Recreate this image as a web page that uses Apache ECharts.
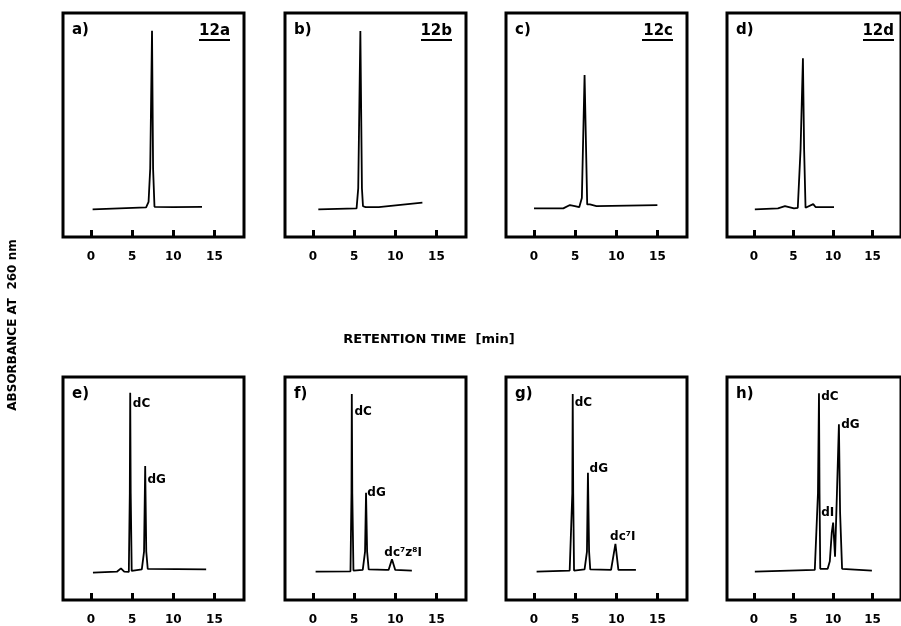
<!DOCTYPE html>
<html>
<head>
<meta charset="utf-8">
<script src="https://cdn.jsdelivr.net/npm/echarts@6/dist/echarts.min.js"></script>
<style>
  html, body { margin: 0; padding: 0; background: #fff; }
  #chart { width: 901px; height: 626px; }
</style>
</head>
<body>
<div id="chart"></div>
<script>
// retention time (min) vs absorbance (relative units, baseline = 0)
const tickValues = [0, 5, 10, 15]
const panelNames = ['a)', 'b)', 'c)', 'd)', 'e)', 'f)', 'g)', 'h)']
const sampleCodes = ['12a', '12b', '12c', '12d']

const traceA = [[0.2, -0.8], [6.7, 0.2], [7.0, 3], [7.2, 20], [7.42, 90.9], [7.55, 20], [7.72, 0.5], [10, 0.3], [13.5, 0.5]]
const traceB = [[0.65, -0.8], [5.3, -0.3], [5.5, 10], [5.76, 90.8], [5.95, 10], [6.08, 0.8], [6.4, 0.3], [8.0, 0.3], [10.05, 1.2], [13.3, 2.6]]
const traceC = [[0, -0.3], [3.56, -0.3], [4.37, 1.4], [4.97, 0.9], [5.5, 0.3], [5.82, 5], [6.15, 68.2], [6.47, 1.7], [6.8, 1.7], [7.6, 0.9], [15.0, 1.4]]
const traceD = [[0.12, -0.8], [3.04, -0.3], [3.93, 0.8], [5.07, -0.3], [5.55, 0], [5.9, 30], [6.2, 76.7], [6.35, 30], [6.53, 0], [7.5, 1.9], [7.82, 0.3], [10.13, 0.3]]
const traceE = [[0.24, -0.9], [3.15, -0.4], [3.64, 1.3], [4.04, -0.4], [4.6, -0.5], [4.72, 40], [4.77, 91.9], [4.83, 40], [4.95, 0], [5.17, 0.5], [6.18, 0.8], [6.3, 1], [6.45, 10], [6.59, 54.1], [6.72, 10], [6.9, 1], [14.0, 0.8]]
const traceF = [[0.32, -0.4], [4.56, -0.2], [4.68, 40], [4.72, 91.2], [4.78, 40], [4.92, 0.2], [6.05, 0.5], [6.21, 0.8], [6.33, 10], [6.45, 40.3], [6.58, 10], [6.77, 0.8], [8.87, 0.5], [9.19, 0.5], [9.6, 6.0], [10.0, 0.5], [12.02, 0.2]]
const traceG = [[0.32, -0.4], [4.34, 0.2], [4.55, 0.2], [4.66, 40], [4.71, 91.2], [4.77, 40], [4.87, 0.2], [6.15, 0.8], [6.31, 0.8], [6.44, 10], [6.56, 50.6], [6.7, 10], [6.84, 0.8], [9.37, 0.5], [9.57, 0.5], [9.9, 13.9], [10.26, 0.5], [12.39, 0.5]]
const traceH = [[0.12, -0.4], [7.7, 0.5], [7.9, 0.8], [8.1, 40], [8.23, 91.6], [8.3, 40], [8.39, 1.1], [9.33, 1.1], [9.6, 5], [9.85, 20], [10.02, 24.9], [10.26, 7.3], [10.5, 40], [10.75, 75.6], [10.9, 30], [11.15, 1.1], [14.92, 0.2]]

// peak names, placed where they are printed: [text, time, absorbance]
const labelsE = [['dC', 5.09, 86.1], ['dG', 6.87, 46.9]]
const labelsF = [['dC', 5.04, 81.8], ['dG', 6.61, 40], ['dc⁷z⁸I', 8.67, 9.4]]
const labelsG = [['dC', 4.95, 86.7], ['dG', 6.76, 52.4], ['dc⁷I', 9.25, 17.3]]
const labelsH = [['dC', 8.52, 89.8], ['dG', 11.03, 75.2], ['dI', 8.52, 30]]

const traces = [traceA, traceB, traceC, traceD, traceE, traceF, traceG, traceH]
const peakLabels = [[], [], [], [], labelsE, labelsF, labelsG, labelsH]

const gridLefts = [63, 285, 506, 727]
const rowTops = [13, 377]
const rowHeights = [224, 223]
const gridWidth = 181
const font = 'DejaVu Sans'

const chart = echarts.init(document.getElementById('chart'))

const grid = [], xAxis = [], yAxis = [], series = [], graphic = []

traces.forEach((trace, i) => {
  const row = Math.floor(i / 4)
  const col = i % 4
  const left = gridLefts[col]
  const top = rowTops[row]
  grid.push({
    left, top, width: gridWidth, height: rowHeights[row],
    show: true, borderColor: '#000', borderWidth: 3, backgroundColor: 'transparent',
  })
  xAxis.push({
    type: 'value', gridIndex: i, min: -3.4, max: 18.6, position: 'bottom',
    splitLine: { show: false },
    axisLine: { show: false, onZero: false },
    axisTick: { show: true, inside: true, length: 7, customValues: tickValues, lineStyle: { color: '#000', width: 3 } },
    axisLabel: { customValues: tickValues, margin: 14, color: '#000', fontSize: 12, fontWeight: 'bold', fontFamily: font },
  })
  yAxis.push({ type: 'value', gridIndex: i, min: -15, max: 100, show: false })
  series.push({
    type: 'line', xAxisIndex: i, yAxisIndex: i, data: trace,
    symbol: 'none', lineStyle: { color: '#000', width: 1.8 },
  })
  if (peakLabels[i].length) {
    series.push({
      type: 'scatter', xAxisIndex: i, yAxisIndex: i, symbolSize: 0, silent: true,
      itemStyle: { opacity: 1, color: '#000' },
      data: peakLabels[i].map(([name, t, v]) => ({ name, value: [t, v] })),
      label: {
        show: true, position: 'right', distance: 0, formatter: '{b}',
        color: '#000', fontSize: 12, fontWeight: 'bold', fontFamily: font,
      },
    })
  }
  graphic.push({
    type: 'text', left: left + 9, top: top + 10,
    style: { text: panelNames[i], font: `bold 15px "${font}"`, fill: '#000' },
  })
  if (row === 0) {
    const right = left + gridWidth - 14
    graphic.push({
      type: 'text', x: right, y: top + 18,
      style: { text: sampleCodes[col], font: `bold 15px "${font}"`, fill: '#000', textAlign: 'right', textVerticalAlign: 'middle' },
    })
    graphic.push({
      type: 'line', shape: { x1: right - 31, y1: top + 27, x2: right, y2: top + 27 },
      style: { stroke: '#000', lineWidth: 2 },
    })
  }
})

graphic.push({
  type: 'text', x: 429, y: 340,
  style: { text: 'RETENTION TIME  [min]', font: `bold 13px "${font}"`, fill: '#000', textAlign: 'center', textVerticalAlign: 'middle' },
})
graphic.push({
  type: 'text', x: 13, y: 325, rotation: Math.PI / 2,
  style: { text: 'ABSORBANCE AT  260 nm', font: `bold 12px "${font}"`, fill: '#000', textAlign: 'center', textVerticalAlign: 'middle' },
})

chart.setOption({
  animation: false,
  backgroundColor: '#fff',
  grid, xAxis, yAxis, series, graphic,
})
</script>
</body>
</html>
